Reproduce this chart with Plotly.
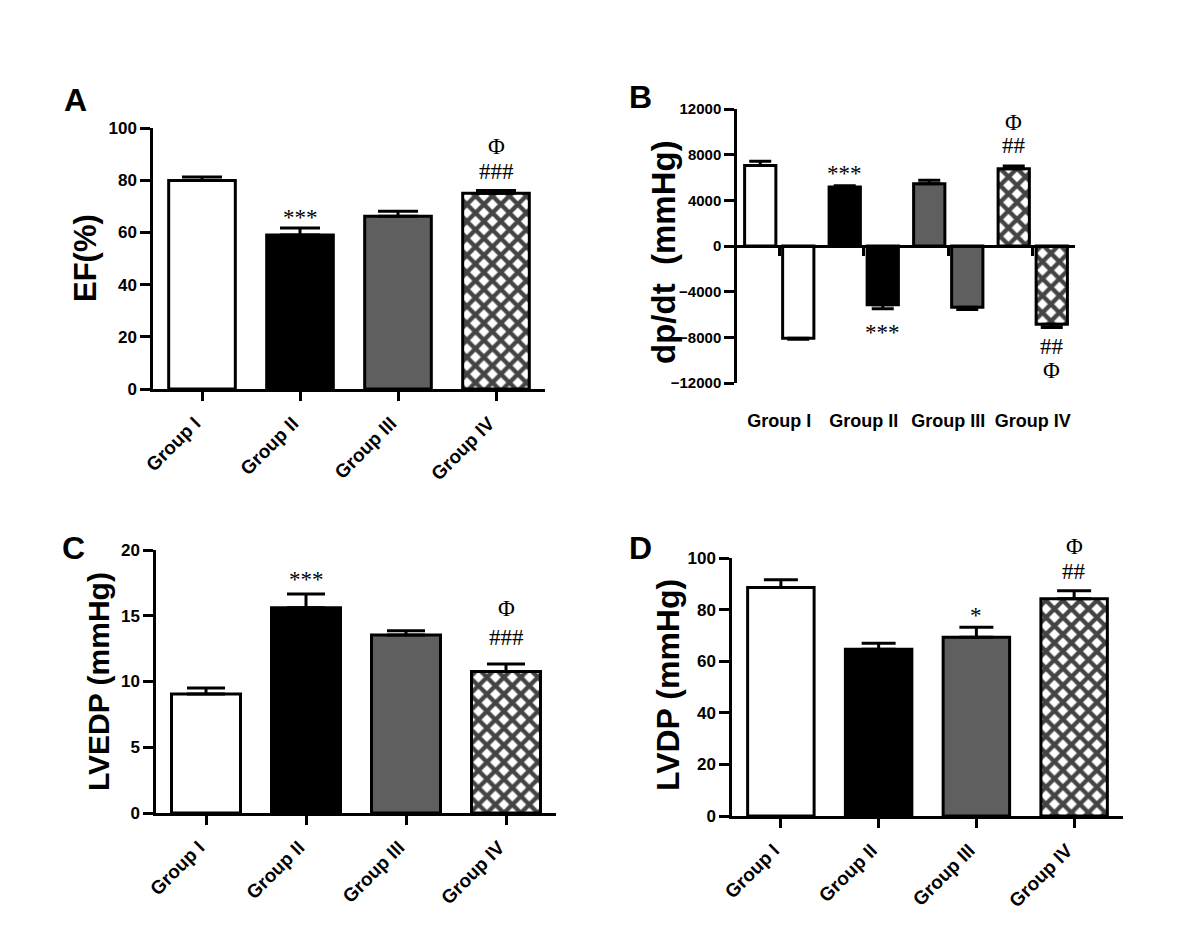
import plotly.graph_objects as go

GROUPS = ["Group I", "Group II", "Group III", "Group IV"]

EF_MEAN = [79.9, 59.0, 66.2, 75.0]
EF_SEM = [1.3, 2.7, 1.9, 1.1]

DPDT_MAX_MEAN = [7060, 5160, 5450, 6770]
DPDT_MAX_SEM = [360, 120, 300, 240]
DPDT_MIN_MEAN = [-8070, -5140, -5370, -6860]
DPDT_MIN_SEM = [90, 350, 200, 280]

LVEDP_MEAN = [9.04, 15.6, 13.54, 10.76]
LVEDP_SEM = [0.46, 1.06, 0.31, 0.58]

LVDP_MEAN = [88.6, 64.6, 69.3, 84.2]
LVDP_SEM = [3.0, 2.4, 3.9, 3.1]

# significance marks: (panel, group, text, side) side: +1 above bar, -1 below
MARKS = [
    ("A", "Group II", "***", 1),
    ("A", "Group IV", "###", 1),
    ("A", "Group IV", "Φ", 1),
    ("B+", "Group II", "***", 1),
    ("B+", "Group IV", "##", 1),
    ("B+", "Group IV", "Φ", 1),
    ("B-", "Group II", "***", -1),
    ("B-", "Group IV", "##", -1),
    ("B-", "Group IV", "Φ", -1),
    ("C", "Group II", "***", 1),
    ("C", "Group IV", "###", 1),
    ("C", "Group IV", "Φ", 1),
    ("D", "Group III", "*", 1),
    ("D", "Group IV", "##", 1),
    ("D", "Group IV", "Φ", 1),
]

# page body adds an 8px margin, so the figure is drawn 8px smaller
PAGE_PAD = 8
W, H = 1200 - PAGE_PAD, 946 - PAGE_PAD
FILLS = ["white", "black", "#5f5f5f", "white"]
HATCH = ["", "", "", "x"]
SANS = "Liberation Sans"
SERIF = "Liberation Serif"


def px_x(a, b):
    return [(a - PAGE_PAD) / W, (b - PAGE_PAD) / W]


def px_y(top, bottom):
    return [1 - (bottom - PAGE_PAD) / H, 1 - (top - PAGE_PAD) / H]


def paper_xy(x, y):
    return (x - PAGE_PAD) / W, 1 - (y - PAGE_PAD) / H


def bar_marker():
    return dict(
        color=FILLS,
        line=dict(color="black", width=3),
        pattern=dict(shape=HATCH, fgcolor="black", fgopacity=1,
                     size=12, solidity=0.6),
    )


def err(up, down, cap):
    return dict(
        type="data", symmetric=False, array=up, arrayminus=down,
        color="black", thickness=3, width=cap,
    )


fig = go.Figure()

zeros = [0] * len(GROUPS)

# panel A
fig.add_trace(go.Bar(
    x=GROUPS, y=EF_MEAN, width=0.68, marker=bar_marker(),
    error_y=err(EF_SEM, zeros, 20), xaxis="x", yaxis="y",
))

# panel B: positive and negative dp/dt bars side by side
BW = 0.37
fig.add_trace(go.Bar(
    x=GROUPS, y=DPDT_MAX_MEAN, width=BW, offset=-0.41, marker=bar_marker(),
    error_y=err(DPDT_MAX_SEM, zeros, 11), xaxis="x2", yaxis="y2",
))
fig.add_trace(go.Bar(
    x=GROUPS, y=DPDT_MIN_MEAN, width=BW, offset=0.04, marker=bar_marker(),
    error_y=err(zeros, DPDT_MIN_SEM, 11), xaxis="x2", yaxis="y2",
))

# panel C
fig.add_trace(go.Bar(
    x=GROUPS, y=LVEDP_MEAN, width=0.69, marker=bar_marker(),
    error_y=err(LVEDP_SEM, zeros, 19), xaxis="x3", yaxis="y3",
))

# panel D
fig.add_trace(go.Bar(
    x=GROUPS, y=LVDP_MEAN, width=0.68, marker=bar_marker(),
    error_y=err(LVDP_SEM, zeros, 17), xaxis="x4", yaxis="y4",
))

tick_font = dict(family=SANS, size=17, color="black", weight="bold")
x_common = dict(
    type="category", range=[-0.5, 3.5], showline=True, linecolor="black",
    linewidth=2.5, ticks="outside", ticklen=9, tickwidth=2.5,
    tickcolor="black", tickangle=-45, ticklabelstandoff=4,
    ticklabelshift=-7,
    tickfont=dict(family=SANS, size=19, color="black", weight="bold"),
    showgrid=False, zeroline=False, fixedrange=True, automargin=False,
)
y_common = dict(
    showline=True, linecolor="black", linewidth=2.5, ticks="outside",
    ticklen=10, tickwidth=2.5, tickcolor="black", tickfont=tick_font,
    showgrid=False, zeroline=False, fixedrange=True, automargin=False,
)

B_RANGE = [-12000, 12000]
B_DOM = px_y(109, 383)
b_zero = B_DOM[0] + (0 - B_RANGE[0]) / (B_RANGE[1] - B_RANGE[0]) * (B_DOM[1] - B_DOM[0])

fig.update_layout(
    width=W, height=H, margin=dict(l=0, r=0, t=0, b=0, autoexpand=False),
    paper_bgcolor="white", plot_bgcolor="white",
    showlegend=False, barmode="overlay",
    xaxis={**x_common, "domain": px_x(153, 545), "anchor": "y"},
    yaxis={**y_common, "domain": px_y(128, 389), "range": [0, 100],
           "dtick": 20, "anchor": "x"},
    xaxis2={**x_common, "domain": px_x(737, 1075), "anchor": "free",
            "position": b_zero, "tickangle": 0, "ticklabelstandoff": 150,
            "ticklabelshift": 0, "ticklen": 8,
            "tickfont": dict(family=SANS, size=18, color="black", weight="bold")},
    yaxis2={**y_common, "domain": B_DOM, "range": B_RANGE, "dtick": 4000,
            "tickformat": "d", "anchor": "x2",
            "tickfont": dict(family=SANS, size=15, color="black", weight="bold")},
    xaxis3={**x_common, "domain": px_x(156, 556), "anchor": "y3"},
    yaxis3={**y_common, "domain": px_y(550, 813), "range": [0, 20],
            "dtick": 5, "anchor": "x3"},
    xaxis4={**x_common, "domain": px_x(732, 1123), "anchor": "y4"},
    yaxis4={**y_common, "domain": px_y(558, 816), "range": [0, 100],
            "dtick": 20, "anchor": "x4"},
)

annotations = []

# panel letters
for letter, pos in {"A": (75, 100), "B": (640, 97), "C": (73, 548), "D": (640, 548)}.items():
    ax, ay = paper_xy(*pos)
    annotations.append(dict(
        text=letter, x=ax, y=ay, xref="paper", yref="paper",
        showarrow=False, xanchor="center", yanchor="middle",
        font=dict(family=SANS, size=32, color="black", weight="bold"),
    ))

# y axis titles
for title, pos, size in [
    ("EF(%)", (86, 258), 31),
    ("dp/dt  (mmHg)", (663, 252), 33),
    ("LVEDP (mmHg)", (98, 682), 30),
    ("LVDP (mmHg)", (668, 685), 32),
]:
    ax, ay = paper_xy(*pos)
    annotations.append(dict(
        text=title, x=ax, y=ay, xref="paper", yref="paper",
        showarrow=False, textangle=-90, xanchor="center", yanchor="middle",
        font=dict(family=SANS, size=size, color="black", weight="bold"),
    ))

# significance marks
panel_data = {
    "A": ("x", "y", EF_MEAN, EF_SEM, 0.0),
    "B+": ("x2", "y2", DPDT_MAX_MEAN, DPDT_MAX_SEM, -0.41 + BW / 2),
    "B-": ("x2", "y2", DPDT_MIN_MEAN, DPDT_MIN_SEM, 0.04 + BW / 2),
    "C": ("x3", "y3", LVEDP_MEAN, LVEDP_SEM, 0.0),
    "D": ("x4", "y4", LVDP_MEAN, LVDP_SEM, 0.0),
}
shifts = {
    ("A", "***"): 10, ("A", "###"): 19, ("A", "Φ"): 44,
    ("B+", "***"): 12, ("B+", "##"): 20, ("B+", "Φ"): 43,
    ("B-", "***"): -24, ("B-", "##"): -19, ("B-", "Φ"): -43,
    ("C", "***"): 14, ("C", "###"): 26, ("C", "Φ"): 55,
    ("D", "*"): 12, ("D", "##"): 19, ("D", "Φ"): 44,
}
for panel, group, text, side in MARKS:
    xr, yr, mean, sem, dx = panel_data[panel]
    i = GROUPS.index(group)
    annotations.append(dict(
        text=text, x=i + dx, y=mean[i] + side * sem[i], xref=xr, yref=yr,
        showarrow=False, xanchor="center", yanchor="middle",
        yshift=shifts[(panel, text)],
        font=dict(family=SERIF, size=23, color="black"),
    ))

fig.update_layout(annotations=annotations)

fig.write_html("out.html")
